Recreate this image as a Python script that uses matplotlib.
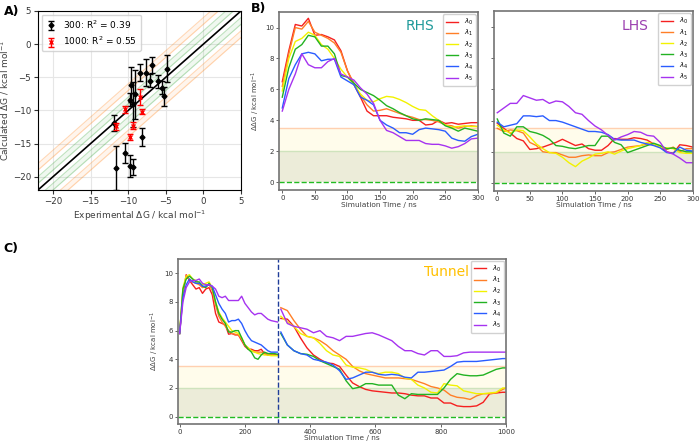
import numpy as np
import matplotlib
matplotlib.use("Agg")
import matplotlib.pyplot as plt

# ---- panel A: calculated vs experimental dG ----
exp_300 = [-11.6, -11.9, -10.4, -9.75, -9.3, -8.2, -9.66, -9.8, -9.4, -9.1,
           -8.5, -7.6, -7.1, -6.8, -6.1, -5.56, -5.2, -4.8]
calc_300 = [-18.7, -11.9, -16.4, -18.4, -18.6, -14.0, -6.1, -8.4, -9.1, -7.6,
            -4.3, -4.3, -5.5, -3.2, -5.6, -6.6, -7.9, -3.7]
err_300 = [3.3, 1.2, 1.5, 1.7, 1.2, 1.3, 2.7, 1.0, 3.4, 3.7,
           1.3, 2.0, 1.0, 1.2, 1.0, 1.0, 1.5, 2.0]
exp_1000 = [-11.6, -10.4, -9.8, -9.3, -8.15, -8.45]
calc_1000 = [-12.4, -9.85, -14.0, -12.3, -10.2, -8.0]
err_1000 = [0.5, 0.5, 0.4, 0.5, 0.4, 1.2]

# ---- panel B: RHS / LHS convergence ----
t_b = list(range(0, 301, 10))
rhs = {
    0: [6.5, 8.5, 10.2, 10.1, 10.6, 9.5, 9.55, 9.4, 9.2, 8.5, 7.2, 6.3, 5.5, 4.6, 4.3, 4.3,
        4.3, 4.2, 4.15, 4.1, 4.0, 4.0, 3.7, 3.75, 4.0, 3.8, 3.85, 3.75, 3.8, 3.85, 3.85],
    1: [6.2, 8.3, 10.0, 9.9, 10.4, 9.7, 9.5, 9.3, 9.0, 8.4, 7.2, 6.4, 5.6, 5.0, 4.6, 4.65,
        4.75, 4.6, 4.45, 4.3, 4.2, 4.05, 4.05, 4.0, 3.9, 3.7, 3.65, 3.5, 3.6, 3.65, 3.6],
    2: [5.9, 8.0, 9.1, 9.3, 9.7, 9.5, 8.9, 8.6, 8.0, 7.3, 6.8, 6.3, 5.7, 5.3, 5.2, 5.4,
        5.55, 5.5, 5.35, 5.15, 4.9, 4.7, 4.65, 4.3, 4.0, 3.7, 3.55, 3.6, 3.65, 3.6, 3.6],
    3: [5.5, 7.4, 8.6, 8.9, 9.5, 9.4, 8.8, 8.8, 8.3, 6.9, 6.8, 6.4, 6.0, 5.8, 5.6, 5.3,
        4.95, 4.75, 4.5, 4.3, 4.1, 4.0, 4.1, 4.05, 4.0, 3.65, 3.5, 3.3, 3.5, 3.4, 3.3],
    4: [4.8, 6.7, 7.6, 8.3, 8.4, 8.3, 7.85, 7.95, 7.95, 6.8, 6.55, 6.3, 5.5, 5.3, 5.0, 4.0,
        3.7, 3.5, 3.2, 3.2, 3.1, 3.4, 3.5, 3.45, 3.4, 3.3, 2.85, 2.7, 2.65, 2.95, 3.1],
    5: [4.6, 6.0, 7.0, 8.3, 7.6, 7.4, 7.4, 7.8, 8.0, 7.0, 6.8, 6.6, 6.1, 5.7, 5.1, 4.0,
        3.35, 3.2, 2.95, 2.7, 2.7, 2.7, 2.5, 2.45, 2.45, 2.35, 2.2, 2.3, 2.5, 2.8, 2.85],
}
lhs = {
    0: [3.83, 3.5, 3.2, 2.85, 2.7, 2.15, 2.2, 2.3, 2.45, 2.6, 2.8, 2.6, 2.4, 2.5, 2.2, 2.1,
        2.1, 2.4, 2.85, 2.8, 2.8, 2.9, 2.85, 2.75, 2.5, 2.3, 2.0, 1.9, 2.45, 2.4, 2.3],
    1: [3.5, 3.3, 3.4, 3.35, 3.2, 2.6, 2.4, 2.0, 1.95, 1.95, 1.8, 1.65, 1.65, 1.75, 1.8, 1.75,
        1.75, 1.95, 2.0, 2.15, 2.3, 2.35, 2.4, 2.5, 2.5, 2.3, 2.15, 2.3, 2.0, 2.2, 2.2],
    2: [3.7, 3.4, 3.2, 3.4, 3.35, 2.95, 2.5, 2.2, 1.95, 1.9, 1.65, 1.3, 1.05, 1.4, 1.6, 1.85,
        1.9, 2.0, 1.85, 2.05, 2.2, 2.3, 2.4, 2.6, 2.5, 2.3, 2.25, 2.2, 1.95, 1.9, 1.9],
    3: [4.1, 3.2, 3.0, 3.6, 3.6, 3.3, 3.2, 3.05, 2.8, 2.4, 2.35, 2.25, 2.2, 2.3, 2.4, 2.4,
        3.0, 3.0, 2.6, 2.45, 1.95, 2.1, 2.25, 2.4, 2.55, 2.4, 2.2, 2.25, 2.1, 2.0, 2.0],
    4: [3.9, 3.6, 3.7, 3.8, 4.3, 4.3, 4.25, 4.3, 4.0, 4.0, 3.9, 3.75, 3.6, 3.45, 3.3, 3.3,
        3.25, 3.1, 2.8, 2.75, 2.75, 2.75, 2.6, 2.5, 2.4, 2.25, 1.95, 1.9, 2.3, 2.1, 2.05],
    5: [4.5, 4.8, 5.1, 5.1, 5.6, 5.45, 5.3, 5.35, 5.1, 5.25, 5.2, 4.9, 4.5, 4.4, 4.0, 3.65,
        3.4, 3.05, 2.75, 2.95, 3.1, 3.3, 3.25, 3.05, 3.0, 2.6, 2.0, 1.85, 1.6, 1.3, 1.3],
}

# ---- panel C: tunnel, two runs ----
t_c1 = list(range(0, 301, 10))
tun1 = {
    0: [5.8, 8.5, 9.9, 9.5, 9.2, 8.9, 9.0, 8.6, 8.9, 9.0, 8.5, 7.2, 6.6, 6.5, 6.4, 5.75,
        5.8, 5.7, 5.7, 5.3, 4.9, 4.7, 4.7, 4.6, 4.6, 4.7, 4.4, 4.3, 4.3, 4.35, 4.3],
    1: [5.8, 8.8, 9.7, 9.6, 9.4, 9.3, 9.2, 9.0, 9.1, 9.2, 8.8, 7.8, 7.0, 6.6, 6.3, 6.0,
        5.8, 5.75, 5.7, 5.4, 5.0, 4.8, 4.6, 4.5, 4.5, 4.5, 4.45, 4.4, 4.35, 4.3, 4.3],
    2: [5.8, 9.0, 9.8, 9.9, 9.6, 9.5, 9.3, 9.2, 9.3, 9.4, 9.0, 8.0, 7.3, 6.9, 6.6, 6.3,
        6.0, 5.9, 5.8, 5.5, 5.0, 4.8, 4.6, 4.5, 4.4, 4.35, 4.3, 4.3, 4.25, 4.25, 4.25],
    3: [5.8, 8.9, 9.6, 9.8, 9.6, 9.4, 9.4, 9.1, 9.0, 9.3, 9.0, 8.0, 7.2, 6.8, 6.5, 5.9,
        5.9, 6.0, 6.0, 5.5, 5.0, 4.7, 4.5, 4.1, 4.0, 4.3, 4.5, 4.4, 4.4, 4.4, 4.35],
    4: [5.8, 8.3, 9.2, 9.6, 9.4, 9.3, 9.3, 9.1, 9.1, 9.2, 9.1, 8.5, 7.9, 7.5, 7.2, 6.6,
        6.7, 6.7, 6.8, 6.5, 6.0, 5.6, 5.3, 5.2, 5.1, 5.0, 4.8, 4.6, 4.5, 4.5, 4.5],
    5: [5.8, 8.0, 9.0, 9.4, 9.5, 9.5, 9.6, 9.3, 9.2, 9.2, 9.1, 8.9, 8.4, 8.3, 8.4, 8.1,
        8.1, 8.1, 8.1, 8.4, 7.9, 7.6, 7.3, 7.1, 7.2, 7.2, 7.0, 6.8, 6.7, 6.65, 6.6],
}
t_c2 = list(range(310, 1000, 20)) + [1000]
tun2 = {
    0: [6.85, 6.8, 6.3, 5.5, 4.8, 4.3, 4.0, 3.75, 3.7, 3.5, 2.9, 2.35, 2.1, 1.9, 1.8, 1.75,
        1.7, 1.65, 1.65, 1.6, 1.5, 1.45, 1.45, 1.3, 1.3, 0.95, 0.95, 0.75, 0.7, 0.7, 0.75,
        1.0, 1.6, 1.65, 1.7, 1.7],
    1: [7.6, 7.4, 6.7, 6.1, 5.6, 5.5, 5.3, 5.0, 4.6, 4.3, 4.0, 3.5, 3.2, 3.0, 2.9, 2.8,
        2.7, 2.7, 2.7, 2.65, 2.6, 2.45, 2.3, 2.1, 2.0, 1.85, 1.5, 1.35, 1.3, 1.2, 1.45,
        1.6, 1.6, 1.65, 1.9, 2.0],
    2: [7.0, 6.6, 6.3, 5.8, 5.6, 5.5, 5.1, 4.6, 4.3, 4.2, 3.6, 3.45, 3.4, 3.3, 3.1, 3.0,
        3.1, 3.1, 3.0, 2.7, 2.6, 2.2, 2.0, 1.7, 1.65, 2.3, 2.2, 2.15, 1.8, 1.7, 1.6,
        1.6, 1.65, 1.7, 2.0, 2.0],
    3: [5.8, 5.0, 4.6, 4.4, 4.35, 4.2, 3.9, 3.7, 3.5, 3.3, 2.5, 1.95, 2.05, 2.3, 2.3, 2.2,
        2.2, 2.2, 1.5, 1.25, 1.6, 1.55, 1.55, 1.55, 1.55, 2.0, 2.6, 3.0, 2.9, 2.85, 2.85,
        2.9, 3.1, 3.3, 3.4, 3.4],
    4: [5.9, 5.0, 4.6, 4.4, 4.3, 4.0, 3.9, 3.8, 3.6, 3.2, 2.6, 2.7, 2.9, 3.1, 3.1, 2.95,
        2.9, 2.95, 2.9, 2.75, 2.7, 3.1, 3.1, 3.15, 3.2, 3.25, 3.5, 3.8, 3.85, 3.85, 3.85,
        3.9, 3.95, 4.0, 4.05, 4.05],
    5: [7.5, 6.5, 6.3, 6.2, 6.1, 5.85, 6.0, 5.6, 5.5, 5.3, 5.6, 5.6, 5.7, 5.8, 5.85, 5.7,
        5.5, 5.3, 4.9, 4.6, 4.6, 4.4, 4.3, 4.6, 4.6, 4.2, 4.2, 4.25, 4.45, 4.5, 4.5,
        4.5, 4.5, 4.5, 4.5, 4.5],
}

lam_colors = ["#f52020", "#ff7f27", "#f2f200", "#22b222", "#2a5cff", "#a633f0"]
lam_labels = [r"$\lambda_%d$" % i for i in range(6)]
frame = "0.45"


def style_small(ax, xlim, ylabel=True):
    ax.axhspan(0, 2, color="olive", alpha=0.15, lw=0)
    ax.axhspan(2, 3.5, color="#fff6c0", alpha=0.3, lw=0)
    ax.axhline(3.5, color="#ffd0b0", lw=1)
    ax.axhline(2, color="#cfe3bd", lw=1)
    ax.axhline(0, color="#22bb22", ls="--", lw=1)
    ax.set_xlim(*xlim)
    ax.set_ylim(-0.5, 11)
    ax.set_yticks([0, 2, 4, 6, 8, 10])
    ax.tick_params(labelsize=5, length=2, width=0.6, pad=1.5, colors="0.3", labelcolor="0.2")
    for s in ax.spines.values():
        s.set_color(frame)
        s.set_linewidth(1.2)
    ax.set_xlabel("Simulation Time / ns", fontsize=5.3, color="0.25", labelpad=0.5)
    if ylabel:
        ax.set_ylabel(r"$\Delta\Delta$G / kcal mol$^{-1}$", fontsize=5, color="0.25", labelpad=2)


def small_legend(ax):
    ax.legend(loc="upper right", fontsize=5, handlelength=1.8, labelspacing=0.15,
              borderaxespad=0.3, borderpad=0.4, framealpha=0.9)


fig = plt.figure(figsize=(7, 4.48), dpi=100)

# panel A
axA = fig.add_axes([0.0543, 0.576, 0.29, 0.3996])
xx = np.array([-22, 5])
for lo, hi, c in [(1, 2, "#2ca02c"), (3, 4, "#ff7f0e")]:
    for sgn in (1, -1):
        axA.fill_between(xx, xx + sgn * lo, xx + sgn * hi, color=c, alpha=0.07, lw=0)
        axA.plot(xx, xx + sgn * lo, color=c, alpha=0.3, lw=0.8)
        axA.plot(xx, xx + sgn * hi, color=c, alpha=0.3, lw=0.8)
axA.plot(xx, xx, color="black", lw=1.2)
axA.errorbar(exp_300, calc_300, yerr=err_300, fmt="D", ms=2.5, color="black",
             ecolor="black", elinewidth=1, capsize=2.5, label="300: R$^2$ = 0.39", zorder=5)
axA.errorbar(exp_1000, calc_1000, yerr=err_1000, fmt="x", ms=3, color="red",
             ecolor="red", elinewidth=1, capsize=2.5, label="1000: R$^2$ = 0.55", zorder=6)
axA.set_xlim(-22, 5)
axA.set_ylim(-22, 5)
axA.set_xticks([-20, -15, -10, -5, 0, 5])
axA.set_yticks([-20, -15, -10, -5, 0, 5])
axA.grid(color="0.9", lw=0.8)
axA.set_axisbelow(True)
axA.tick_params(labelsize=6.2, length=3, pad=2, colors="0.2")
axA.set_xlabel(r"Experimental $\Delta$G / kcal mol$^{-1}$", fontsize=6.5, color="0.25", labelpad=2)
axA.set_ylabel(r"Calculated $\Delta$G / kcal mol$^{-1}$", fontsize=6.5, color="0.25", labelpad=1)
axA.legend(loc="upper left", fontsize=6.5, handlelength=1.2, borderaxespad=0.4)

# panel B
axB1 = fig.add_axes([0.3986, 0.576, 0.284, 0.397])
axB2 = fig.add_axes([0.7057, 0.574, 0.284, 0.401], sharey=axB1)
for ax, data, name, col in [(axB1, rhs, "RHS", "#1f9a9a"), (axB2, lhs, "LHS", "#9b3fb0")]:
    style_small(ax, (-5, 300), ylabel=(ax is axB1))
    for i in range(6):
        ax.plot(t_b, data[i], color=lam_colors[i], lw=1, label=lam_labels[i])
    ax.text(0.71, 0.92, name, transform=ax.transAxes, color=col, fontsize=10,
            ha="center", va="center")
    small_legend(ax)
axB2.tick_params(labelleft=False)

# panel C
axC = fig.add_axes([0.2543, 0.054, 0.4686, 0.368])
style_small(axC, (-5, 1000))
axC.set_xticks([0, 200, 400, 600, 800, 1000])
for i in range(6):
    axC.plot(t_c1, tun1[i], color=lam_colors[i], lw=1, label=lam_labels[i])
    axC.plot(t_c2, tun2[i], color=lam_colors[i], lw=1)
axC.axvline(300, color="#1f3d99", ls="--", lw=1)
axC.text(0.82, 0.92, "Tunnel", transform=axC.transAxes, color="#ffc000", fontsize=10,
         ha="center", va="center")
small_legend(axC)

fig.text(0.005, 0.975, "A)", fontsize=9, fontweight="bold", va="center")
fig.text(0.358, 0.98, "B)", fontsize=9, fontweight="bold", va="center")
fig.text(0.005, 0.445, "C)", fontsize=9, fontweight="bold", va="center")

fig.savefig("out.png", dpi=100)
